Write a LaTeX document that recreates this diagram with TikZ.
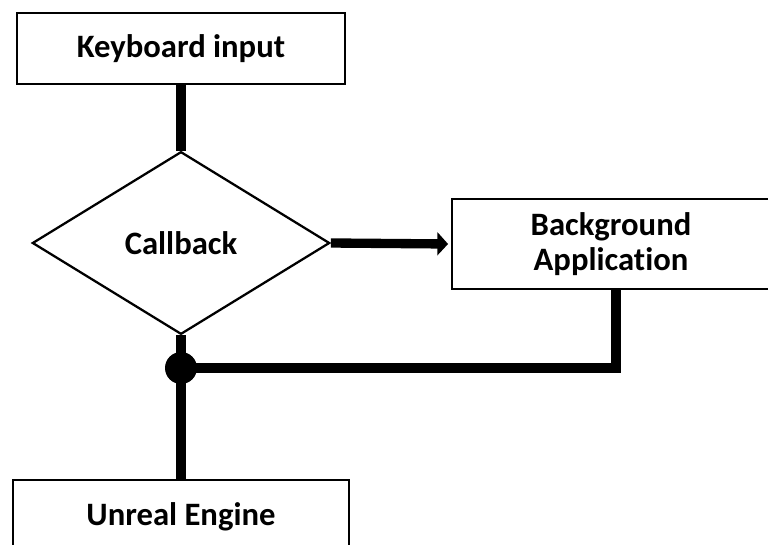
\documentclass[tikz,border=0pt]{standalone}
\usepackage{fontspec}
\setmainfont{Carlito}[Ligatures=NoCommon]
\usetikzlibrary{shapes.geometric,arrows.meta}

\begin{document}
\begin{tikzpicture}[x=0.75pt, y=-0.75pt,
  box/.style={draw, rectangle, line width=1.9pt, align=center, font=\fontsize{24.5}{26}\selectfont\bfseries},
  flow/.style={line width=7pt}]

\useasboundingbox (0,0) rectangle (768,545);

% keyboard input and callback
\node[box, minimum width=246pt, minimum height=53pt] at (181, 48.5) (kbd) {Keyboard input};
\node[box, diamond, line width=1.7pt, minimum width=223pt, minimum height=137pt, inner sep=0pt] at (181, 243) (cb) {Callback};

% background application
\node[box, minimum width=238.5pt, minimum height=67.5pt] at (611, 244) (bg) {Background\\Application};

% unreal engine
\node[box, minimum width=252pt, minimum height=55.5pt] at (181, 517) (ue) {Unreal Engine};

% junction
\node[circle, fill, minimum size=24pt, inner sep=0pt] at (181, 368) (jn) {};

% connectors
\draw[flow] (kbd.south) -- (cb.north);
\draw[flow, -{Triangle[length=8pt, width=17pt]}, shorten >=2pt] (cb.east) -- (bg.west);
\draw[flow] ([xshift=3.75pt]bg.south) |- (jn.center);
\draw[flow] (cb.south) -- (jn.center) -- (ue.north);

\end{tikzpicture}
\end{document}
